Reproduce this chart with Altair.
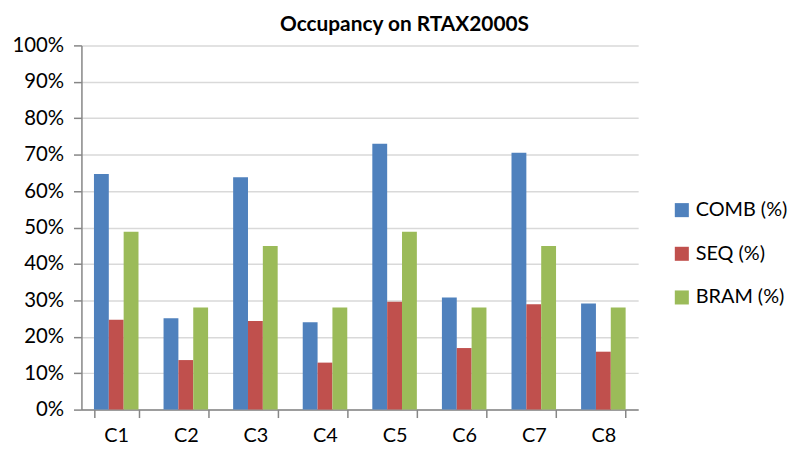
import altair as alt
import pandas as pd

categories = ["C1", "C2", "C3", "C4", "C5", "C6", "C7", "C8"]
series = ["COMB (%)", "SEQ (%)", "BRAM (%)"]
comb = [64.7, 25.1, 63.8, 24.0, 73.0, 30.8, 70.5, 29.1]
seq = [24.7, 13.6, 24.3, 12.9, 29.6, 16.9, 28.9, 15.9]
bram = [48.8, 28.0, 44.9, 28.0, 48.8, 28.0, 44.9, 28.0]
colors = ["#4F81BD", "#C0504D", "#9BBB59"]
y_ticks = [0, 10, 20, 30, 40, 50, 60, 70, 80, 90, 100]

rows = []
for name, vals in zip(series, [comb, seq, bram]):
    for c, v in zip(categories, vals):
        rows.append({"category": c, "series": name, "value": v})
df = pd.DataFrame(rows)

FONT = "Lato"

chart = alt.Chart(df).mark_bar().encode(
    x=alt.X("category:N", sort=categories,
            scale=alt.Scale(paddingInner=0.36, paddingOuter=0.18),
            axis=alt.Axis(title=None, labelAngle=0, tickBand="extent",
                          tickSize=8, labelPadding=8, labelFontSize=20,
                          labelColor="#000000", domainColor="#868686",
                          tickColor="#868686", domainWidth=1.5, tickWidth=1.5,
                          grid=False, labelFont=FONT)),
    xOffset=alt.XOffset("series:N", sort=series, scale=alt.Scale(domain=series)),
    y=alt.Y("value:Q", scale=alt.Scale(domain=[0, 100], nice=False),
            axis=alt.Axis(title=None, values=y_ticks, labelExpr="datum.value + '%'",
                          tickSize=8, labelPadding=10, labelFontSize=20.5,
                          labelColor="#000000", domainColor="#868686",
                          tickColor="#868686", domainWidth=1.5, tickWidth=1.5,
                          gridColor="#D9D9D9", gridWidth=1.5, labelFont=FONT)),
    color=alt.Color("series:N", sort=series,
                    scale=alt.Scale(domain=series, range=colors),
                    legend=alt.Legend(title=None, orient="none", legendX=595, legendY=156,
                                      symbolType="square", symbolSize=200,
                                      symbolStrokeWidth=0, labelFontSize=20,
                                      labelFont=FONT, labelColor="#000000",
                                      rowPadding=24, labelOffset=4)),
).properties(
    width=561, height=367,
    title=alt.TitleParams("Occupancy on RTAX2000S", fontSize=21, fontWeight="bold",
                          font=FONT, color="#000000", anchor="middle", dx=45, offset=1),
    padding={"left": 74, "top": 36, "right": 152, "bottom": 36},
    autosize=alt.AutoSizeParams(type="none"),
).configure_view(stroke=None)

chart.save("out.html", embed_options={"renderer": "svg", "actions": False})
